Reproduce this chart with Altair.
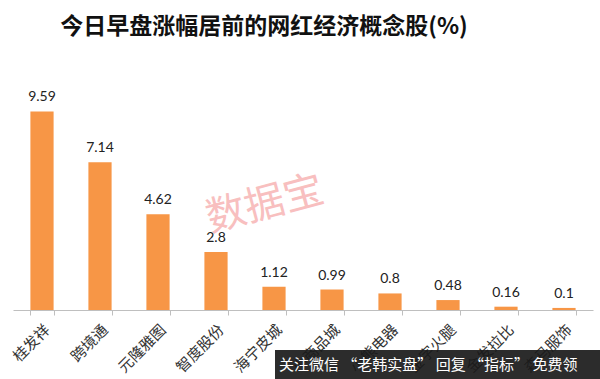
import altair as alt
import pandas as pd

names = ["桂发祥", "跨境通", "元隆雅图", "智度股份", "海宁皮城", "小商品城", "小熊电器", "金字火腿", "金发拉比", "森马服饰"]
values = [9.59, 7.14, 4.62, 2.8, 1.12, 0.99, 0.8, 0.48, 0.16, 0.1]
labels = ["9.59", "7.14", "4.62", "2.8", "1.12", "0.99", "0.8", "0.48", "0.16", "0.1"]

df = pd.DataFrame({"name": names, "value": values, "label": labels})

W, H = 580, 207

x = alt.X("name:N", sort=names, title=None,
          scale=alt.Scale(paddingInner=0.6, paddingOuter=0.3),
          axis=alt.Axis(labelAngle=-45, labelFont="Noto Sans CJK SC", labelFontSize=15,
                        labelColor="#333333", domainColor="#BFBFBF", tickColor="#BFBFBF",
                        tickSize=5, tickBand="extent", labelPadding=7))
y = alt.Y("value:Q", scale=alt.Scale(domain=[0, 10]), axis=None)

base = alt.Chart(df)
bars = base.mark_bar(color="#F79646").encode(x=x, y=y)
text = base.mark_text(baseline="bottom", dy=-7, font="Lato", fontSize=14, color="#222222").encode(
    x=alt.X("name:N", sort=names), y="value:Q", text="label:N")

title = alt.Chart(pd.DataFrame({"t": ["今日早盘涨幅居前的网红经济概念股(%)"]})).mark_text(
    font="Noto Sans CJK SC", fontSize=23, fontWeight="bold", color="#111111", baseline="middle"
).encode(x=alt.value(251), y=alt.value(-76), text="t:N")

wm = alt.Chart(pd.DataFrame({"t": ["数据宝"]})).mark_text(
    font="Noto Sans CJK SC", fontSize=40, color="#F28080", opacity=0.5, angle=345, baseline="middle"
).encode(x=alt.value(252), y=alt.value(102), text="t:N")

banner = alt.Chart(pd.DataFrame({"a": [1]})).mark_rect(color="#1a1a1a", opacity=0.92).encode(
    x=alt.value(262), x2=alt.value(587), y=alt.value(247), y2=alt.value(276))
banner_text = alt.Chart(pd.DataFrame({"t": ["关注微信 “老韩实盘” 回复 “指标” 免费领"]})).mark_text(
    font="Noto Sans CJK SC", fontSize=15, color="#ffffff", align="left", baseline="middle"
).encode(x=alt.value(266), y=alt.value(262), text="t:N")

chart = alt.layer(bars, text, wm, title, banner, banner_text).properties(
    width=W, height=H,
    autosize=alt.AutoSizeParams(type="none"),
    padding={"left": 13, "top": 103, "right": 7, "bottom": 69},
    background="white"
).configure_view(stroke=None)

chart.save("out.html", embed_options={"renderer": "svg", "actions": False})
